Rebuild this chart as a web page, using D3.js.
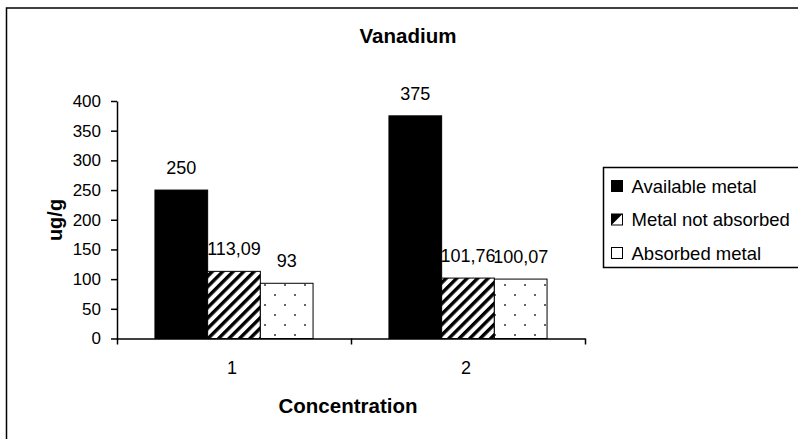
<!DOCTYPE html>
<html>
<head>
<meta charset="utf-8">
<script src="https://cdn.jsdelivr.net/npm/d3@7"></script>
<style>
  body { margin: 0; background: #fff; }
  text { font-family: "Liberation Sans", Arial, sans-serif; fill: #000; }
</style>
</head>
<body>
<div id="chart"></div>
<script>
// chart data
var categories = ["1", "2"];
var seriesNames = ["Available metal", "Metal not absorbed", "Absorbed metal"];
var availableMetal = [250, 375];
var notAbsorbed = [113.09, 101.76];
var absorbedMetal = [93, 100.07];
var yTicks = [0, 50, 100, 150, 200, 250, 300, 350, 400];

var seriesValues = [availableMetal, notAbsorbed, absorbedMetal];
var fills = ["#000", "url(#hatch)", "url(#dots)"];

var W = 798, H = 439;
var plotLeft = 117, plotRight = 585, plotTop = 101, plotBottom = 338.5;

var svg = d3.select("#chart").append("svg")
  .attr("width", W)
  .attr("height", H);

// patterns
var defs = svg.append("defs");
var hatch = defs.append("pattern")
  .attr("id", "hatch")
  .attr("patternUnits", "userSpaceOnUse")
  .attr("width", 7.4)
  .attr("height", 7.4)
  .attr("patternTransform", "rotate(45)");
hatch.append("rect").attr("width", 7.4).attr("height", 7.4).attr("fill", "#fff");
hatch.append("rect").attr("width", 3.4).attr("height", 7.4).attr("fill", "#000");

var dots = defs.append("pattern")
  .attr("id", "dots")
  .attr("patternUnits", "userSpaceOnUse")
  .attr("width", 20)
  .attr("height", 20);
dots.append("rect").attr("width", 20).attr("height", 20).attr("fill", "#fff");
dots.append("circle").attr("cx", 5).attr("cy", 5).attr("r", 1).attr("fill", "#333");
dots.append("circle").attr("cx", 15).attr("cy", 15).attr("r", 1).attr("fill", "#333");

// outer frame
svg.append("rect")
  .attr("x", 6.5).attr("y", 8)
  .attr("width", 820).attr("height", 460)
  .attr("fill", "none")
  .attr("stroke", "#000")
  .attr("stroke-width", 1.5);

// scales
var x0 = d3.scaleBand().domain(categories).range([plotLeft, plotRight]).paddingInner(0).paddingOuter(0);
var x1 = d3.scaleBand().domain(d3.range(seriesNames.length)).range([0, x0.bandwidth()])
  .paddingInner(0).paddingOuter(0.72);
var y = d3.scaleLinear().domain([0, 400]).range([plotBottom, plotTop]);

// bars
var fmt = function(v) { return String(v).replace(".", ","); };

seriesNames.forEach(function(name, s) {
  var g = svg.append("g");
  g.selectAll("rect")
    .data(seriesValues[s])
    .enter()
    .append("rect")
    .attr("x", function(d, i) { return x0(categories[i]) + x1(s); })
    .attr("y", function(d) { return y(d); })
    .attr("width", x1.bandwidth())
    .attr("height", function(d) { return y(0) - y(d); })
    .attr("fill", fills[s])
    .attr("stroke", "#000")
    .attr("stroke-width", 1);
});

// data labels (drawn after bars so they sit on top)
seriesNames.forEach(function(name, s) {
  svg.append("g").selectAll("text")
    .data(seriesValues[s])
    .enter()
    .append("text")
    .attr("x", function(d, i) { return x0(categories[i]) + x1(s) + x1.bandwidth() / 2; })
    .attr("y", function(d) { return y(d) - 16; })
    .attr("text-anchor", "middle")
    .style("font-size", "18px")
    .text(function(d) { return fmt(d); });
});

// y axis
var yAxis = svg.append("g")
  .attr("transform", "translate(" + plotLeft + ",0)")
  .call(d3.axisLeft(y).tickValues(yTicks).tickSize(6).tickSizeOuter(0).tickPadding(10));
yAxis.select(".domain").attr("stroke", "#000").attr("stroke-width", 1.5);
yAxis.selectAll(".tick line").attr("stroke", "#000").attr("stroke-width", 1.5);
yAxis.selectAll(".tick text")
  .style("font-size", "17px")
  .style("font-family", "Liberation Sans, Arial, sans-serif");

// x axis (ticks at category boundaries)
var xb = d3.scaleLinear().domain([0, categories.length]).range([plotLeft, plotRight]);
var xAxis = svg.append("g")
  .attr("transform", "translate(0," + plotBottom + ")")
  .call(d3.axisBottom(xb).tickValues(d3.range(categories.length + 1)).tickSize(6).tickSizeOuter(0).tickFormat(""));
xAxis.select(".domain").attr("stroke", "#000").attr("stroke-width", 1.5);
xAxis.selectAll(".tick line").attr("stroke", "#000").attr("stroke-width", 1.5);

svg.append("g").selectAll("text")
  .data(categories)
  .enter()
  .append("text")
  .attr("x", function(d) { return x0(d) + x0.bandwidth() / 2 - 2; })
  .attr("y", 374)
  .attr("text-anchor", "middle")
  .style("font-size", "18px")
  .text(function(d) { return d; });

// titles
svg.append("text")
  .attr("x", 408).attr("y", 43)
  .attr("text-anchor", "middle")
  .style("font-size", "20.5px")
  .style("font-weight", "bold")
  .text("Vanadium");

svg.append("text")
  .attr("x", 348).attr("y", 413)
  .attr("text-anchor", "middle")
  .style("font-size", "20.5px")
  .style("font-weight", "bold")
  .text("Concentration");

svg.append("text")
  .attr("transform", "translate(62,220) rotate(-90)")
  .attr("text-anchor", "middle")
  .style("font-size", "20px")
  .style("font-weight", "bold")
  .text("ug/g");

// legend
var legend = svg.append("g").attr("transform", "translate(603.5,167.5)");
legend.append("rect")
  .attr("width", 230).attr("height", 100)
  .attr("fill", "#fff")
  .attr("stroke", "#000")
  .attr("stroke-width", 1.5);

var rows = legend.selectAll(".row")
  .data(seriesNames)
  .enter()
  .append("g")
  .attr("class", "row")
  .attr("transform", function(d, i) { return "translate(0," + (25 + i * 33.5) + ")"; });

rows.append("rect")
  .attr("x", 8).attr("y", -12)
  .attr("width", 11).attr("height", 11)
  .attr("fill", function(d, i) { return i === 0 ? "#000" : "#fff"; })
  .attr("stroke", "#000")
  .attr("stroke-width", 1);

rows.filter(function(d, i) { return i === 1; })
  .append("path")
  .attr("d", "M8,-12 L19,-12 L8,-1 Z")
  .attr("fill", "#000");

rows.append("text")
  .attr("x", 28).attr("y", 0)
  .style("font-size", "18.5px")
  .text(function(d) { return d; });
</script>
</body>
</html>
